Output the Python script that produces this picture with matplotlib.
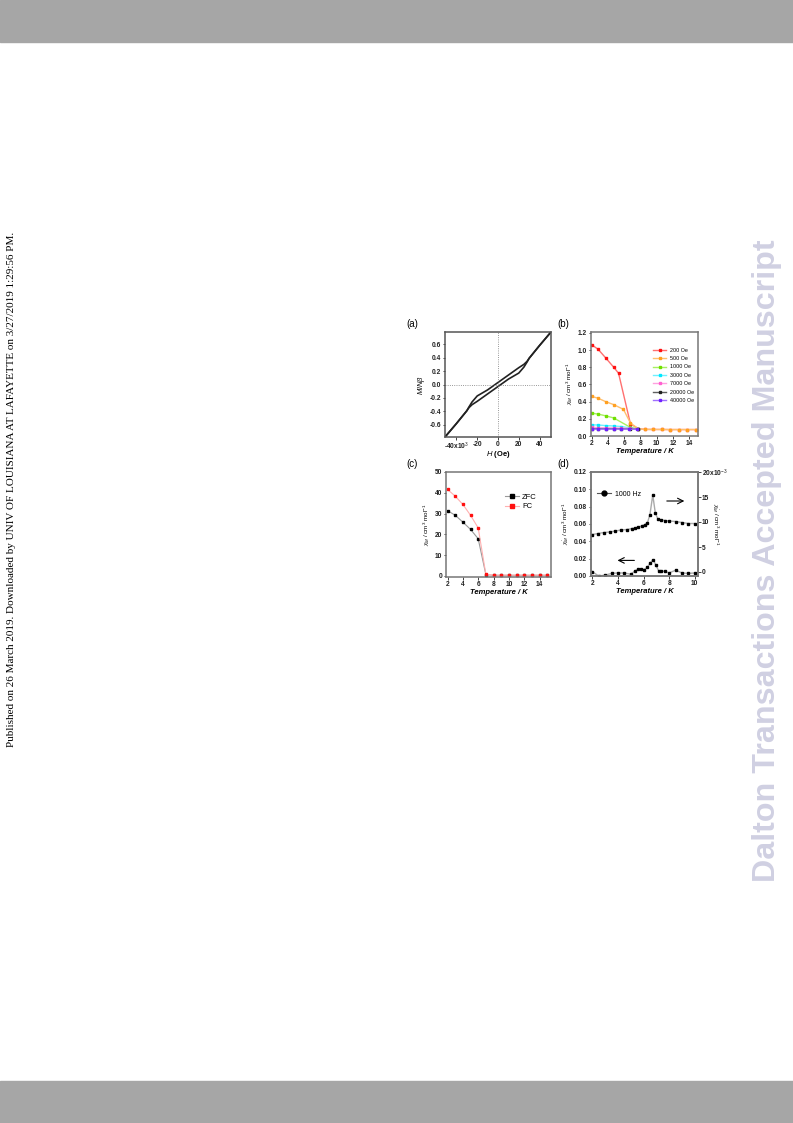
import matplotlib.pyplot as plt
from matplotlib.patches import Rectangle

plt.rcParams['font.family'] = ['Liberation Sans', 'DejaVu Sans']
plt.rcParams['mathtext.fontset'] = 'custom'
plt.rcParams['mathtext.rm'] = 'Liberation Sans'
plt.rcParams['mathtext.it'] = 'Liberation Sans:italic'
plt.rcParams['mathtext.bf'] = 'Liberation Sans:bold'

# ---- (a) hysteresis loop, H in 10^3 Oe ----
h_down = [51, 40, 30, 28, 25, 20, 10, 0, -10, -20, -25, -28, -30, -40, -51]
m_down = [0.78, 0.58, 0.39, 0.345, 0.30, 0.25, 0.14, 0.03, -0.08, -0.17, -0.26, -0.335,
          -0.39, -0.58, -0.78]
h_up = [-51, -40, -30, -28, -25, -20, -10, 0, 10, 20, 25, 28, 30, 40, 51]
m_up = [-0.78, -0.58, -0.39, -0.345, -0.30, -0.25, -0.14, -0.03, 0.08, 0.17, 0.26, 0.335,
        0.39, 0.58, 0.78]

# ---- (b) chi_M vs T at several fields ----
t_tail = [8.5, 9.6, 10.6, 11.6, 12.8, 13.8, 14.9]
chi_tail = [0.077, 0.076, 0.076, 0.075, 0.075, 0.075, 0.075]
t_200 = [2.0, 2.77, 3.7, 4.7, 5.3, 6.77, 7.74] + t_tail
chi_200 = [1.06, 1.01, 0.91, 0.80, 0.73, 0.14, 0.085] + chi_tail
t_500 = [2.0, 2.77, 3.7, 4.7, 5.9, 6.77, 7.74] + t_tail
chi_500 = [0.46, 0.44, 0.40, 0.365, 0.31, 0.15, 0.085] + chi_tail
t_1000 = [2.0, 2.77, 3.7, 4.7, 6.77, 7.74]
chi_1000 = [0.265, 0.255, 0.235, 0.21, 0.10, 0.083]
t_3000 = [2.0, 2.77, 3.7, 4.7, 5.6, 6.7, 7.7]
chi_3000 = [0.13, 0.128, 0.121, 0.117, 0.11, 0.095, 0.08]
t_7000 = [2.0, 2.77, 3.7, 4.7, 5.6, 6.7, 7.7]
chi_7000 = [0.10, 0.098, 0.096, 0.094, 0.092, 0.088, 0.08]
t_20000 = [2.0, 2.77, 3.7, 4.7, 5.6, 6.7, 7.7]
chi_20000 = [0.085, 0.085, 0.084, 0.084, 0.083, 0.082, 0.08]
t_40000 = [2.0, 2.77, 3.7, 4.7, 5.6, 6.6, 7.6]
chi_40000 = [0.08, 0.08, 0.08, 0.08, 0.08, 0.08, 0.079]
field_labels = ['200 Oe', '500 Oe', '1000 Oe', '3000 Oe', '7000 Oe', '20000 Oe', '40000 Oe']

# ---- (c) ZFC / FC ----
t_c = [2, 3, 4, 5, 6, 7, 8, 9, 10, 11, 12, 13, 14, 15]
chi_zfc = [31.4, 29.2, 25.9, 22.4, 17.9, 0.7, 0.3, 0.3, 0.3, 0.3, 0.3, 0.3, 0.3, 0.3]
chi_fc = [41.6, 38.4, 34.4, 29.2, 23.1, 0.8, 0.4, 0.4, 0.4, 0.4, 0.4, 0.4, 0.4, 0.4]

# ---- (d) ac susceptibility, 1000 Hz ----
t_re = [2.0, 2.45, 2.9, 3.35, 3.8, 4.25, 4.7, 5.1, 5.35, 5.6, 5.85, 6.1, 6.3, 6.5,
        6.72, 6.92, 7.12, 7.4, 7.7, 8.0, 8.5, 9.0, 9.5, 10.0]
chi_re = [7.5, 7.7, 7.9, 8.0, 8.2, 8.4, 8.5, 8.7, 8.8, 9.0, 9.2, 9.5, 9.8, 11.5,
          15.4, 11.8, 10.6, 10.4, 10.3, 10.2, 10.1, 9.9, 9.7, 9.7]
t_im = [2.0, 2.5, 3.0, 3.5, 4.0, 4.5, 5.0, 5.3, 5.57, 5.83, 6.06, 6.3, 6.5, 6.75,
        6.95, 7.18, 7.4, 7.67, 8.0, 8.5, 9.0, 9.5, 10.0]
chi_im = [0.005, 0.0, 0.001, 0.003, 0.0035, 0.0035, 0.002, 0.0055, 0.008, 0.008, 0.0075,
          0.010, 0.0145, 0.019, 0.013, 0.006, 0.0055, 0.0055, 0.0035, 0.0067, 0.0035,
          0.003, 0.0035]

W, H = 793, 1123
fig = plt.figure(figsize=(W / 100, H / 100), dpi=100)


def box(x0, y0, x1, y1):
    return [x0 / W, 1 - y1 / H, (x1 - x0) / W, (y1 - y0) / H]


# page decoration
fig.patches.append(Rectangle((0, 1 - 42 / H), 1, 42 / H, transform=fig.transFigure,
                             color='#a6a6a6', zorder=0))
fig.patches.append(Rectangle((0, 0), 1, 42 / H, transform=fig.transFigure,
                             color='#a6a6a6', zorder=0))
fig.text(12 / W, 1 - 489 / H,
         'Published on 26 March 2019. Downloaded by UNIV OF LOUISIANA AT LAFAYETTE on 3/27/2019 1:29:56 PM.',
         rotation=90, ha='center', va='center', fontsize=8.0, family='Liberation Serif')
fig.text(767 / W, 1 - 561 / H, 'Dalton Transactions Accepted Manuscript', rotation=90,
         ha='center', va='center', fontsize=23.2, fontweight='bold', color='#d0d0e2')

fs = 4.8


def style(ax, spine='#777777'):
    for s in ax.spines.values():
        s.set_color(spine)
        s.set_linewidth(1.1)
    ax.tick_params(labelsize=fs, length=1.8, width=0.6, pad=1, colors='#222222')
    for lab in ax.get_xticklabels() + ax.get_yticklabels():
        lab.set_fontweight('bold')


chi_lab = r'$\chi_M$ / cm$^3$ mol$^{-1}$'

# (a)
ax = fig.add_axes(box(445, 332, 551, 437))
ax.plot(h_down, m_down, color='#222222', lw=1.2)
ax.plot(h_up, m_up, color='#222222', lw=1.2)
ax.axhline(0, color='#777777', lw=0.6, ls=':')
ax.axvline(0, color='#777777', lw=0.6, ls=':')
ax.set_xlim(-51, 51)
ax.set_ylim(-0.78, 0.78)
ax.set_xticks([-40, -20, 0, 20, 40])
ax.set_xticklabels(['-40x10$^3$', '-20', '0', '20', '40'])
ax.set_yticks([-0.6, -0.4, -0.2, 0.0, 0.2, 0.4, 0.6])
ax.set_yticklabels(['-0.6', '-0.4', '-0.2', '0.0', '0.2', '0.4', '0.6'])
style(ax, '#555555')
ax.set_xlabel(r'$H$ (Oe)', fontsize=5.5, fontweight='bold')
ax.xaxis.set_label_coords(0.5, -0.11)
ax.set_ylabel(r'$M/N\beta$', fontsize=5.5, labelpad=2)
fig.text(412 / W, 1 - 324 / H, '(a)', fontsize=7, ha='center', va='center')

# (b)
ax = fig.add_axes(box(591, 332, 698, 436))
mcols = ['#ff1010', '#ffa020', '#70e000', '#00e8ff', '#ff60d0', '#202020', '#7020ff']
lcols = ['#ff7070', '#ffc070', '#a8f060', '#70f0ff', '#ffa0e0', '#606060', '#a070ff']
series_b = [(t_200, chi_200), (t_500, chi_500), (t_1000, chi_1000), (t_3000, chi_3000),
            (t_7000, chi_7000), (t_20000, chi_20000), (t_40000, chi_40000)]
for (tt, cc), lab, mc, lc in zip(series_b, field_labels, mcols, lcols):
    ax.plot(tt, cc, color=lc, lw=1.0, marker='s', ms=1.8, mfc=mc, mec=mc, label=lab)
ax.set_xlim(1.9, 15.1)
ax.set_ylim(0, 1.21)
ax.set_xticks([2, 4, 6, 8, 10, 12, 14])
ax.set_yticks([0.0, 0.2, 0.4, 0.6, 0.8, 1.0, 1.2])
ax.set_yticklabels(['0.0', '0.2', '0.4', '0.6', '0.8', '1.0', '1.2'])
style(ax)
ax.set_xlabel('Temperature / K', fontsize=5.5, fontweight='bold', style='italic', labelpad=1)
ax.set_ylabel(chi_lab, fontsize=4.5, labelpad=2)
ax.legend(loc='upper right', bbox_to_anchor=(0.99, 0.88), fontsize=3.9, frameon=False,
          handlelength=2.4, labelspacing=0.62, borderaxespad=0.2, handletextpad=0.6)
fig.text(563 / W, 1 - 324 / H, '(b)', fontsize=7, ha='center', va='center')

# (c)
ax = fig.add_axes(box(446, 472, 551, 577))
ax.plot(t_c, chi_zfc, color='#999999', lw=0.8, marker='s', ms=2, mfc='black', mec='black',
        label='ZFC')
ax.plot(t_c, chi_fc, color='#ffb0b0', lw=0.8, marker='s', ms=2, mfc='#ff1010', mec='#ff1010',
        label='FC')
ax.set_xlim(1.8, 15.5)
ax.set_ylim(-0.5, 50)
ax.set_xticks([2, 4, 6, 8, 10, 12, 14])
ax.set_yticks([0, 10, 20, 30, 40, 50])
style(ax)
ax.set_xlabel('Temperature / K', fontsize=5.5, fontweight='bold', style='italic', labelpad=1)
ax.set_ylabel(chi_lab, fontsize=4.5, labelpad=2)
ax.legend(loc='upper right', bbox_to_anchor=(0.93, 0.86), fontsize=5.5, frameon=False,
          handlelength=1.8, markerscale=1.6, labelspacing=0.25, handletextpad=0.4)
fig.text(412 / W, 1 - 464 / H, '(c)', fontsize=7, ha='center', va='center')

# (d)
ax = fig.add_axes(box(591, 472, 698, 576))
ax2 = ax.twinx()
ax2.plot(t_re, chi_re, color='#aaaaaa', lw=1.0, marker='s', ms=1.6, mfc='black', mec='black')
ax.plot(t_im, chi_im, color='#aaaaaa', lw=1.0, marker='s', ms=1.6, mfc='black', mec='black')
ax.plot([], [], color='#555555', lw=0.8, marker='o', ms=3.5, mfc='black', mec='black',
        label='1000 Hz')
ax.set_xlim(1.9, 10.25)
ax.set_ylim(0, 0.12)
ax2.set_ylim(-0.8, 20)
ax.set_xticks([2, 4, 6, 8, 10])
ax.set_yticks([0.0, 0.02, 0.04, 0.06, 0.08, 0.10, 0.12])
ax.set_yticklabels(['0.00', '0.02', '0.04', '0.06', '0.08', '0.10', '0.12'])
ax2.set_yticks([0, 5, 10, 15, 20])
ax2.set_yticklabels(['0', '5', '10', '15', '20x10$^{-3}$'])
style(ax)
style(ax2)
ax.annotate('', xy=(3.75, 0.018), xytext=(5.5, 0.018),
            arrowprops=dict(arrowstyle='->', color='black', lw=0.8))
ax2.annotate('', xy=(9.4, 14.2), xytext=(7.6, 14.2),
             arrowprops=dict(arrowstyle='->', color='black', lw=0.8))
ax.set_xlabel('Temperature / K', fontsize=5.5, fontweight='bold', style='italic', labelpad=1)
ax.set_ylabel(r"$\chi_M'$ / cm$^3$ mol$^{-1}$", fontsize=4.5, labelpad=2)
fig.text(715 / W, 1 - 524 / H, r"$\chi_M''$ / cm$^3$ mol$^{-1}$", fontsize=4.5,
         rotation=270, ha='center', va='center')
ax.legend(loc='upper left', bbox_to_anchor=(0.0, 0.88), fontsize=5.0, frameon=False,
          handlelength=2.0, handletextpad=0.5)
fig.text(563 / W, 1 - 464 / H, '(d)', fontsize=7, ha='center', va='center')

fig.savefig('out.png', dpi=100)
